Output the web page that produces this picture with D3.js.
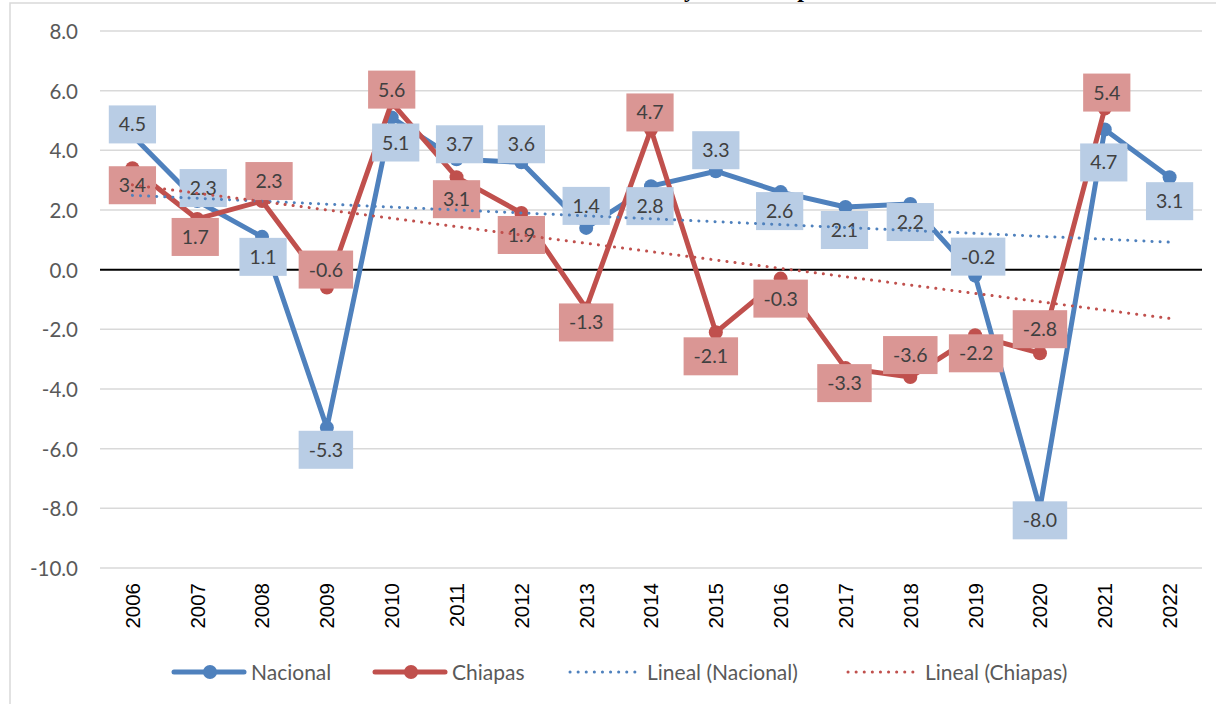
<!DOCTYPE html>
<html>
<head>
<meta charset="utf-8">
<script src="https://cdn.jsdelivr.net/npm/d3@7"></script>
<style>
  body { margin: 0; background: #fff; }
  svg { display: block; }
  text { font-family: Lato, "Open Sans", sans-serif; }
</style>
</head>
<body>
<svg id="chart" width="1216" height="704"></svg>
<script>
const years = ['2006','2007','2008','2009','2010','2011','2012','2013','2014','2015','2016','2017','2018','2019','2020','2021','2022']
const nacional = [4.5, 2.3, 1.1, -5.3, 5.1, 3.7, 3.6, 1.4, 2.8, 3.3, 2.6, 2.1, 2.2, -0.2, -8.0, 4.7, 3.1]
const chiapas = [3.4, 1.7, 2.3, -0.6, 5.6, 3.1, 1.9, -1.3, 4.7, -2.1, -0.3, -3.3, -3.6, -2.2, -2.8, 5.4, null]
const yTicks = [8, 6, 4, 2, 0, -2, -4, -6, -8, -10]
const seriesNames = ['Nacional', 'Chiapas', 'Lineal (Nacional)', 'Lineal (Chiapas)']

// label box offsets from their point (as placed in the original)
const nacLabelOff = [[0,-11],[6,-13],[1,20],[-1,22],[4,25],[3,-15],[0,-18],[0,-22],[-1,20],[0,-21],[-1,19],[-1,23],[0,18],[3,-19],[0,12],[-1,33],[0,24]]
const chiLabelOff = [[0,17],[-2,18],[7,-20],[-1,-18],[0,-13],[0,22],[0,22],[0,14],[-1,-17],[-5,24],[0,20],[-1,15],[0,-22],[1,18],[0,-24],[2,-16],[0,0]]

const blue = '#4f81bd', red = '#c0504d'
const blueBox = '#b9cde5', redBox = '#da9694'

const svg = d3.select('#chart')

// chart frame (extends past the picture on right and bottom)
svg.append('rect')
  .attr('x', 10).attr('y', 3)
  .attr('width', 1240).attr('height', 740)
  .attr('fill', 'none').attr('stroke', '#d9d9d9').attr('stroke-width', 1.5)

// title sits above the picture, only descenders show
svg.append('text')
  .attr('x', 832).attr('y', -3)
  .attr('text-anchor', 'end')
  .style('font-family', '"Liberation Serif", serif')
  .style('font-weight', 'bold')
  .style('font-size', '24px')
  .style('word-spacing', '8px')
  .text('Tasa de crecimiento del PIB Nacional y de Chiapas')

const x = d3.scaleBand().domain(years).range([100, 1202])
const cx = d => x(d) + x.bandwidth() / 2
const y = d3.scaleLinear().domain([-10, 8]).range([568, 31])

// gridlines
svg.append('g')
  .selectAll('line')
  .data(yTicks.filter(t => t !== 0))
  .enter()
  .append('line')
  .attr('x1', 100).attr('x2', 1202)
  .attr('y1', d => y(d)).attr('y2', d => y(d))
  .attr('stroke', '#d9d9d9').attr('stroke-width', 1.5)

// y axis
const yAxis = d3.axisLeft(y).tickValues(yTicks).tickSize(0).tickPadding(0)
const ya = svg.append('g').attr('transform', 'translate(78,0)').call(yAxis)
ya.select('.domain').remove()
ya.selectAll('text')
  .attr('fill', '#595959')
  .style('font-size', '20.5px')
  .attr('dy', '0.36em')
  .text(d => d3.format('.1f')(d).replace('−', '-'))

// x axis labels (rotated)
const xAxis = d3.axisBottom(x).tickSize(0)
const xa = svg.append('g').attr('transform', 'translate(0,583)').call(xAxis)
xa.select('.domain').remove()
xa.selectAll('text')
  .attr('fill', '#000')
  .style('font-family', '"Liberation Sans", Arial, sans-serif')
  .style('font-size', '20.5px')
  .attr('transform', 'rotate(-90)')
  .attr('text-anchor', 'end')
  .attr('x', 0).attr('y', 0).attr('dy', '0.36em')

// zero line
svg.append('line')
  .attr('x1', 100).attr('x2', 1202)
  .attr('y1', y(0)).attr('y2', y(0))
  .attr('stroke', '#000').attr('stroke-width', 2)

function pts(vals) {
  return vals.map((v, i) => ({ year: years[i], v: v, i: i })).filter(d => d.v !== null)
}

const line = d3.line().x(d => cx(d.year)).y(d => y(d.v))

function drawSeries(vals, color) {
  const p = pts(vals)
  svg.append('path')
    .datum(p)
    .attr('d', line)
    .attr('fill', 'none').attr('stroke', color)
    .attr('stroke-width', 5).attr('stroke-linejoin', 'round').attr('stroke-linecap', 'round')
  svg.append('g')
    .selectAll('circle')
    .data(p)
    .enter()
    .append('circle')
    .attr('cx', d => cx(d.year)).attr('cy', d => y(d.v))
    .attr('r', 7).attr('fill', color)
}

drawSeries(nacional, blue)
drawSeries(chiapas, red)

function drawLabels(vals, offs, fill) {
  const p = pts(vals)
  const g = svg.append('g')
    .selectAll('g')
    .data(p)
    .enter()
    .append('g')
    .attr('transform', d => `translate(${cx(d.year) + offs[d.i][0]},${y(d.v) + offs[d.i][1]})`)
  g.append('rect').attr('fill', fill)
  const t = g.append('text')
    .attr('text-anchor', 'middle').attr('dy', '0.36em')
    .attr('fill', '#404040').style('font-size', '19.5px')
    .text(d => d3.format('.1f')(d.v).replace('−', '-'))
  t.each(function(d) {
    const w = this.getComputedTextLength() + 20
    d3.select(this.parentNode).select('rect')
      .attr('x', -w / 2).attr('y', -19).attr('width', w).attr('height', 38)
  })
}

drawLabels(nacional, nacLabelOff, blueBox)
drawLabels(chiapas, chiLabelOff, redBox)

// linear trendlines (least squares over category index)
function trend(vals) {
  const p = pts(vals).map(d => [d.i + 1, d.v])
  const mx = d3.mean(p, d => d[0]), my = d3.mean(p, d => d[1])
  const sxy = d3.sum(p, d => (d[0] - mx) * (d[1] - my))
  const sxx = d3.sum(p, d => (d[0] - mx) * (d[0] - mx))
  const b = sxy / sxx, a = my - b * mx
  return [years[0], years[years.length - 1]].map((yr, k) => ({ year: yr, v: a + b * (k === 0 ? 1 : years.length) }))
}

function drawTrend(vals, color) {
  svg.append('path')
    .datum(trend(vals))
    .attr('d', line)
    .attr('fill', 'none').attr('stroke', color)
    .attr('stroke-width', 3).attr('stroke-linecap', 'round')
    .attr('stroke-dasharray', '0.1 8')
}

drawTrend(nacional, blue)
drawTrend(chiapas, red)

// legend
const legend = svg.append('g').attr('transform', 'translate(0,672)')
const legItems = [
  { name: seriesNames[0], color: blue, x: 174, dotted: false },
  { name: seriesNames[1], color: red, x: 375, dotted: false },
  { name: seriesNames[2], color: blue, x: 570, dotted: true },
  { name: seriesNames[3], color: red, x: 848, dotted: true }
]
legItems.forEach(it => {
  const l = legend.append('line')
    .attr('x1', it.x).attr('x2', it.x + 70)
    .attr('y1', 0).attr('y2', 0)
    .attr('stroke', it.color).attr('stroke-linecap', 'round')
  if (it.dotted) {
    l.attr('stroke-width', 3).attr('stroke-dasharray', '0.1 8')
  } else {
    l.attr('stroke-width', 5)
    legend.append('circle').attr('cx', it.x + 36).attr('cy', 0).attr('r', 7).attr('fill', it.color)
  }
  legend.append('text')
    .attr('x', it.x + 77).attr('y', 0).attr('dy', '0.36em')
    .attr('fill', '#595959').style('font-size', '21px')
    .text(it.name)
})
</script>
</body>
</html>
